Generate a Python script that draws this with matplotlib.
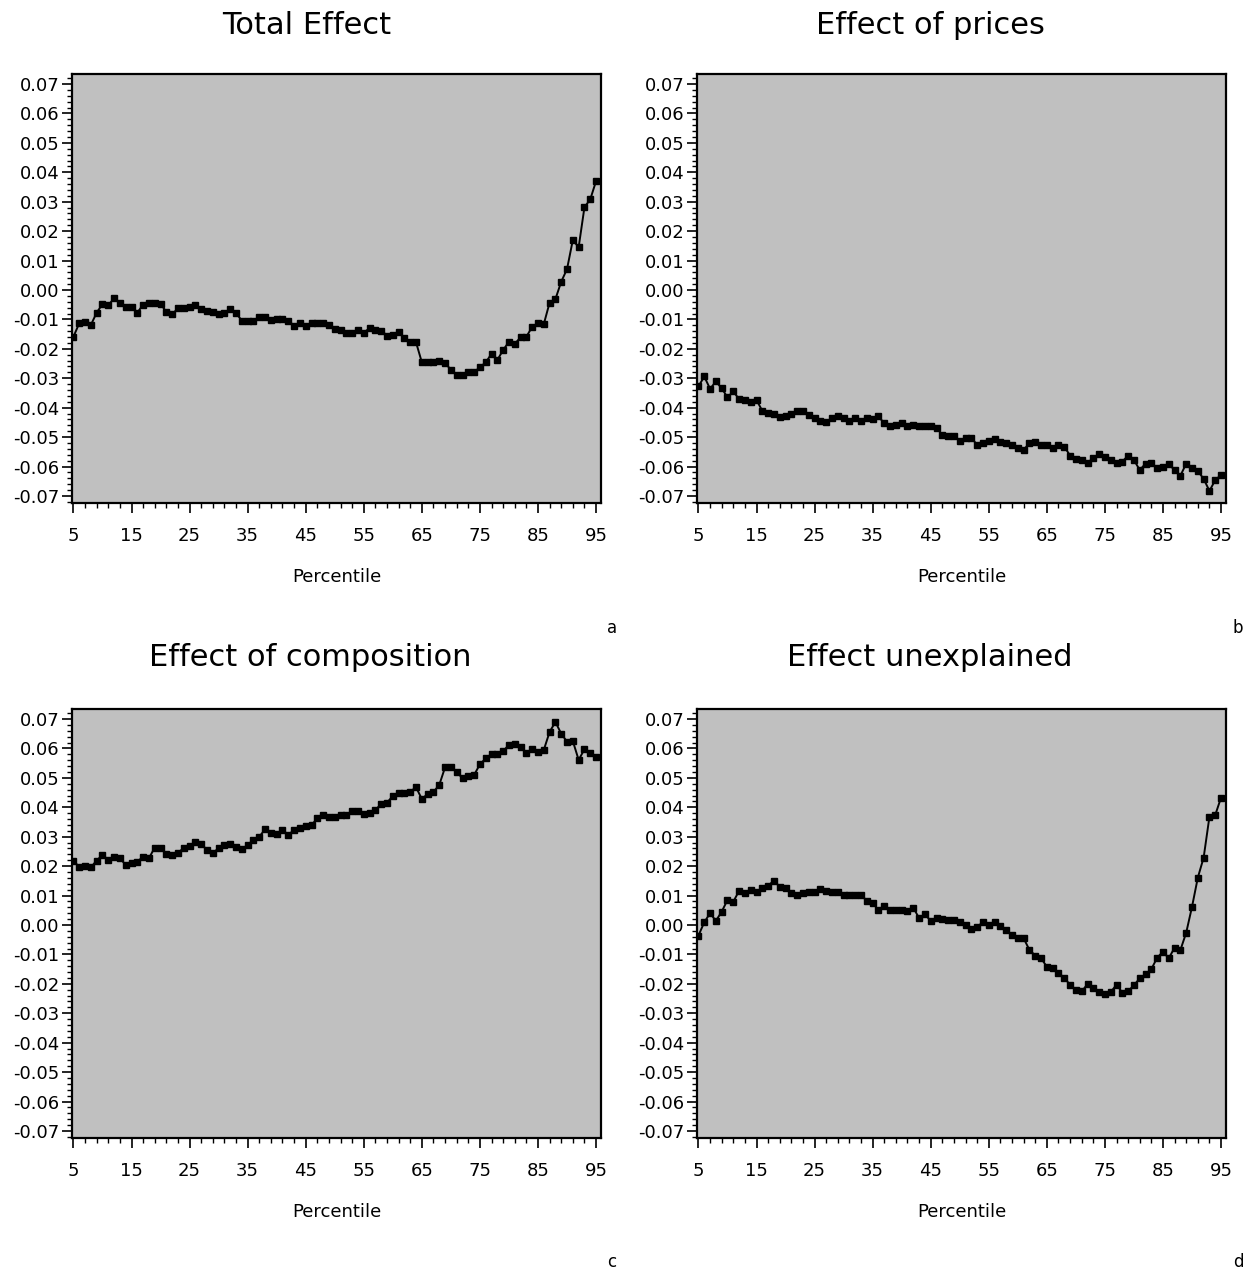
import numpy as np
import matplotlib
matplotlib.use("Agg")
import matplotlib.pyplot as plt
from matplotlib.ticker import MultipleLocator, FixedLocator

percentile = list(range(5, 96))

total_effect = [
    -0.0159, -0.0113, -0.0110, -0.0119, -0.0077, -0.0048, -0.0052, -0.0028, -0.0043, -0.0057,
    -0.0057, -0.0077, -0.0050, -0.0045, -0.0045, -0.0048, -0.0074, -0.0083, -0.0062, -0.0060,
    -0.0059, -0.0051, -0.0066, -0.0071, -0.0075, -0.0082, -0.0079, -0.0066, -0.0079, -0.0104,
    -0.0104, -0.0104, -0.0092, -0.0093, -0.0101, -0.0097, -0.0097, -0.0104, -0.0122, -0.0111,
    -0.0122, -0.0113, -0.0113, -0.0111, -0.0120, -0.0134, -0.0136, -0.0147, -0.0145, -0.0137,
    -0.0145, -0.0130, -0.0136, -0.0138, -0.0155, -0.0153, -0.0144, -0.0162, -0.0176, -0.0178,
    -0.0246, -0.0246, -0.0246, -0.0241, -0.0247, -0.0272, -0.0288, -0.0290, -0.0279, -0.0279,
    -0.0263, -0.0246, -0.0217, -0.0238, -0.0204, -0.0176, -0.0183, -0.0161, -0.0159, -0.0125,
    -0.0113, -0.0116, -0.0043, -0.0031, 0.0028, 0.0071, 0.0170, 0.0145, 0.0281, 0.0308,
    0.0370,
]

effect_prices = [
    -0.0328, -0.0294, -0.0336, -0.0311, -0.0334, -0.0365, -0.0345, -0.0371, -0.0374, -0.0382,
    -0.0374, -0.0411, -0.0417, -0.0422, -0.0433, -0.0430, -0.0422, -0.0413, -0.0413, -0.0425,
    -0.0434, -0.0447, -0.0450, -0.0436, -0.0427, -0.0436, -0.0445, -0.0436, -0.0445, -0.0436,
    -0.0438, -0.0430, -0.0453, -0.0464, -0.0459, -0.0453, -0.0464, -0.0459, -0.0461, -0.0461,
    -0.0461, -0.0468, -0.0493, -0.0495, -0.0496, -0.0513, -0.0504, -0.0502, -0.0527, -0.0521,
    -0.0513, -0.0506, -0.0515, -0.0521, -0.0527, -0.0536, -0.0543, -0.0521, -0.0515, -0.0527,
    -0.0527, -0.0536, -0.0527, -0.0532, -0.0563, -0.0574, -0.0578, -0.0589, -0.0570, -0.0558,
    -0.0566, -0.0578, -0.0589, -0.0583, -0.0563, -0.0578, -0.0612, -0.0590, -0.0589, -0.0606,
    -0.0603, -0.0592, -0.0612, -0.0631, -0.0590, -0.0604, -0.0615, -0.0642, -0.0683, -0.0646,
    -0.0629,
]

effect_composition = [
    0.0219, 0.0196, 0.0200, 0.0196, 0.0219, 0.0238, 0.0221, 0.0232, 0.0227, 0.0204,
    0.0212, 0.0215, 0.0232, 0.0227, 0.0263, 0.0263, 0.0240, 0.0238, 0.0246, 0.0261,
    0.0268, 0.0283, 0.0275, 0.0255, 0.0244, 0.0261, 0.0272, 0.0274, 0.0266, 0.0257,
    0.0272, 0.0289, 0.0300, 0.0325, 0.0311, 0.0309, 0.0323, 0.0306, 0.0323, 0.0328,
    0.0336, 0.0340, 0.0362, 0.0374, 0.0366, 0.0368, 0.0374, 0.0374, 0.0388, 0.0387,
    0.0377, 0.0382, 0.0391, 0.0411, 0.0416, 0.0438, 0.0450, 0.0450, 0.0453, 0.0468,
    0.0428, 0.0445, 0.0452, 0.0476, 0.0536, 0.0538, 0.0521, 0.0498, 0.0506, 0.0510,
    0.0546, 0.0566, 0.0581, 0.0581, 0.0591, 0.0612, 0.0614, 0.0604, 0.0583, 0.0597,
    0.0589, 0.0595, 0.0656, 0.0690, 0.0650, 0.0623, 0.0625, 0.0561, 0.0597, 0.0585,
    0.0572,
]

effect_unexplained = [
    -0.0036, 0.0009, 0.0040, 0.0014, 0.0045, 0.0085, 0.0079, 0.0116, 0.0108, 0.0119,
    0.0111, 0.0125, 0.0134, 0.0150, 0.0130, 0.0125, 0.0108, 0.0102, 0.0108, 0.0111,
    0.0113, 0.0121, 0.0116, 0.0113, 0.0113, 0.0102, 0.0102, 0.0102, 0.0102, 0.0082,
    0.0074, 0.0051, 0.0066, 0.0051, 0.0051, 0.0051, 0.0048, 0.0059, 0.0023, 0.0036,
    0.0014, 0.0023, 0.0019, 0.0017, 0.0017, 0.0011, 0.0000, -0.0014, -0.0006, 0.0009,
    0.0000, 0.0009, -0.0002, -0.0017, -0.0034, -0.0045, -0.0045, -0.0085, -0.0104, -0.0113,
    -0.0142, -0.0147, -0.0164, -0.0179, -0.0204, -0.0222, -0.0226, -0.0201, -0.0215, -0.0228,
    -0.0235, -0.0228, -0.0203, -0.0230, -0.0225, -0.0205, -0.0181, -0.0168, -0.0150, -0.0111,
    -0.0091, -0.0113, -0.0077, -0.0085, -0.0026, 0.0062, 0.0161, 0.0229, 0.0368, 0.0374,
    0.0433,
]

titles = ["Total Effect", "Effect of prices", "Effect of composition", "Effect unexplained"]
letters = ["a", "b", "c", "d"]
series = [total_effect, effect_prices, effect_composition, effect_unexplained]
xticks = [5, 15, 25, 35, 45, 55, 65, 75, 85, 95]
yticks = [round(v, 2) for v in np.arange(-0.07, 0.0701, 0.01)]

W, H = 1248, 1277
fig = plt.figure(figsize=(W / 100, H / 100), dpi=100)
fig.patch.set_facecolor("white")

lefts = [72, 697, 72, 697]
tops = [74, 74, 709, 709]
aw, ah = 529, 429
title_x = [307, 930, 310, 930]
title_y = [25, 25, 658, 658]
letter_pos = [(612, 628), (1238, 628), (612, 1262), (1238, 1262)]

font = "DejaVu Sans"

for i in range(4):
    l, t = lefts[i], tops[i]
    ax = fig.add_axes([l / W, 1 - (t + ah) / H, aw / W, ah / H])
    ax.set_facecolor("#c0c0c0")
    ax.plot(percentile, series[i], color="black", lw=1.4, marker="s",
            markersize=4.8, markerfacecolor="black", markeredgecolor="black")
    ax.set_xlim(4.75, 95.85)
    ax.set_ylim(-0.0724, 0.0734)
    ax.xaxis.set_major_locator(FixedLocator(xticks))
    ax.xaxis.set_minor_locator(FixedLocator(list(range(5, 96, 2))))
    ax.yaxis.set_major_locator(FixedLocator(yticks))
    ax.yaxis.set_minor_locator(MultipleLocator(0.002))
    ax.set_xticklabels([str(v) for v in xticks], fontsize=13, family=font)
    ax.set_yticklabels([f"{v:.2f}" if v >= 0 else f"-{abs(v):.2f}" for v in yticks],
                       fontsize=13, family=font)
    ax.tick_params(axis="both", which="major", direction="out", length=7, width=1.2,
                   color="black")
    ax.tick_params(axis="both", which="minor", direction="out", length=3.5, width=1.0,
                   color="black")
    ax.tick_params(axis="x", which="major", pad=10)
    ax.tick_params(axis="y", which="major", pad=2)
    for sp in ax.spines.values():
        sp.set_linewidth(1.6)
        sp.set_color("black")
    ax.set_xlabel("Percentile", fontsize=13, family=font, labelpad=17)
    fig.text(title_x[i] / W, 1 - title_y[i] / H, titles[i], fontsize=22, family=font,
             ha="center", va="center")
    fig.text(letter_pos[i][0] / W, 1 - letter_pos[i][1] / H, letters[i], fontsize=12,
             family=font, ha="center", va="center")

fig.savefig("out.png", dpi=100, facecolor="white")
